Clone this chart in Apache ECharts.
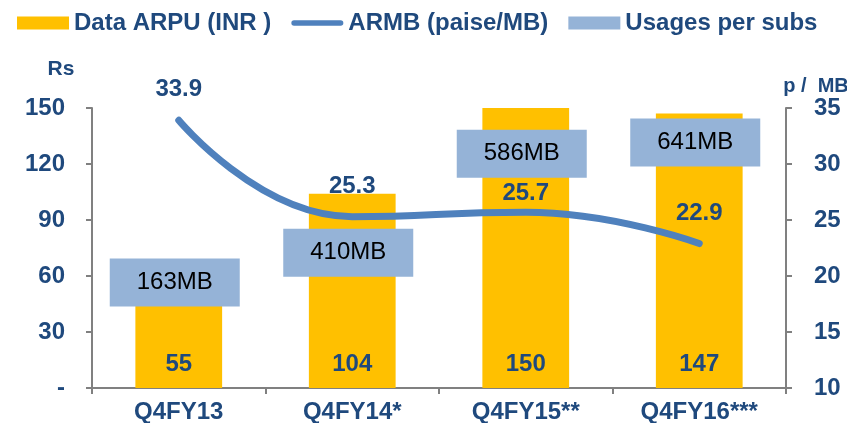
<!DOCTYPE html>
<html>
<head>
<meta charset="utf-8">
<script src="https://cdn.jsdelivr.net/npm/echarts@6/dist/echarts.min.js"></script>
<style>
  html, body { margin: 0; padding: 0; background: #fff; }
  #chart { width: 847px; height: 423px; }
</style>
</head>
<body>
<div id="chart"></div>
<script>
var quarters = ['Q4FY13', 'Q4FY14*', 'Q4FY15**', 'Q4FY16***'];
var arpu = [55, 104, 150, 147];          // Data ARPU (INR), left axis
var armb = [33.9, 25.3, 25.7, 22.9];     // ARMB (paise/MB), right axis
var usage = [163, 410, 586, 641];        // Usages per subs (MB)
var usageLevel = [56.5, 72.5, 125.5, 131.5]; // where the usage boxes sit, read on the Rs axis
var leftTicks = [0, 30, 60, 90, 120, 150];
var rightTicks = [10, 15, 20, 25, 30, 35];

var navy = '#1F497D';
var font = 'Liberation Sans, Arial, sans-serif';

var chart = echarts.init(document.getElementById('chart'));

var option = {
  animation: false,
  textStyle: { fontFamily: font },
  legend: {
    left: 12,
    top: 6,
    itemWidth: 52,
    itemHeight: 13,
    itemGap: 20,
    textStyle: { color: navy, fontSize: 24, fontWeight: 'bold', fontFamily: font },
    data: [
      { name: 'Data ARPU (INR )', icon: 'rect' },
      // thick rounded line as in the original legend
      { name: 'ARMB (paise/MB)', icon: 'path://M3,0 L55,0 A3,3 0 0 1 55,6 L3,6 A3,3 0 0 1 3,0 Z' },
      { name: 'Usages per subs', icon: 'rect' }
    ]
  },
  grid: { left: 92, right: 61, top: 108, bottom: 35, outerBoundsMode: 'none' },
  xAxis: {
    type: 'category',
    data: quarters,
    axisLine: { lineStyle: { color: '#808080', width: 2 } },
    axisTick: { show: true, length: 6, lineStyle: { color: '#808080', width: 2 } },
    axisLabel: { color: navy, fontSize: 24, fontWeight: 'bold', margin: 12 },
    splitLine: { show: false }
  },
  yAxis: [{
    type: 'value',
    min: leftTicks[0],
    max: leftTicks[leftTicks.length - 1],
    interval: 30,
    name: 'Rs',
    nameLocation: 'end',
    nameGap: 28,
    nameTextStyle: { color: navy, fontSize: 21, fontWeight: 'bold', padding: [0, 62, 0, 0] },
    axisLine: { show: true, lineStyle: { color: '#808080', width: 2 } },
    axisTick: { show: true, length: 6, lineStyle: { color: '#808080', width: 2 } },
    axisLabel: {
      color: navy, fontSize: 24, fontWeight: 'bold', margin: 27,
      formatter: function (v) { return v === 0 ? '-' : v; }
    },
    splitLine: { show: false }
  }, {
    type: 'value',
    position: 'right',
    min: rightTicks[0],
    max: rightTicks[rightTicks.length - 1],
    interval: 5,
    name: 'p /  MB',
    nameLocation: 'end',
    nameGap: 10,
    nameTextStyle: { color: navy, fontSize: 20, fontWeight: 'bold', padding: [0, 0, 0, 60] },
    axisLine: { show: true, lineStyle: { color: '#808080', width: 2 } },
    axisTick: { show: true, length: 6, lineStyle: { color: '#808080', width: 2 } },
    axisLabel: { color: navy, fontSize: 24, fontWeight: 'bold', margin: 28 },
    splitLine: { show: false }
  }],
  series: [
    {
      name: 'Data ARPU (INR )',
      type: 'bar',
      data: arpu,
      barWidth: '50%',
      itemStyle: { color: '#FFC000' },
      label: {
        show: true,
        position: 'insideBottom',
        distance: 12,
        color: navy,
        fontSize: 24,
        fontWeight: 'bold'
      },
      z: 1
    },
    {
      name: 'Usages per subs',
      type: 'scatter',
      data: usageLevel.map(function (v, i) { return [i, v, usage[i]]; }),
      symbol: 'rect',
      symbolSize: [130, 48],
      symbolOffset: [-4, 0],
      itemStyle: { color: '#95B3D7', opacity: 1 },
      label: {
        show: true,
        position: 'inside',
        color: '#000',
        fontSize: 24,
        formatter: function (p) { return p.value[2] + 'MB'; }
      },
      z: 2
    },
    {
      name: 'ARMB (paise/MB)',
      type: 'line',
      yAxisIndex: 1,
      data: armb,
      smooth: 0.5,
      symbol: 'none',
      lineStyle: { color: '#4F81BD', width: 7, cap: 'round' },
      itemStyle: { color: '#4F81BD' },
      z: 3
    },
    {
      // labels for the ARMB line
      name: 'ARMB labels',
      type: 'scatter',
      yAxisIndex: 1,
      symbolSize: 1,
      itemStyle: { color: 'rgba(0,0,0,0)', opacity: 1 },
      data: armb.map(function (v, i) {
        return i === 2 ? { value: v, label: { distance: 6 } } : v;
      }),
      label: {
        show: true,
        position: 'top',
        distance: 18,
        color: navy,
        fontSize: 24,
        fontWeight: 'bold'
      },
      z: 4
    }
  ]
};

chart.setOption(option);
</script>
</body>
</html>
